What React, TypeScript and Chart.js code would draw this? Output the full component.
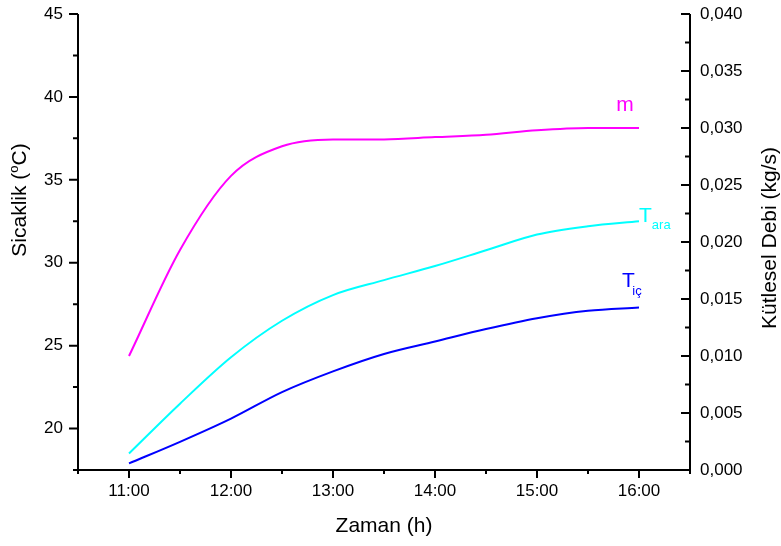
import { useEffect, useRef } from 'react';
import { Chart, registerables } from 'chart.js';

Chart.register(...registerables);

// ---- data ----
const times = [11, 11.5, 12, 12.5, 13, 13.5, 14, 14.5, 15, 15.5, 16];
const tAra = [18.5, 21.5, 24.3, 26.5, 28.05, 28.95, 29.8, 30.75, 31.7, 32.2, 32.5];
const tIc = [17.9, 19.2, 20.6, 22.2, 23.45, 24.5, 25.25, 26.0, 26.65, 27.1, 27.3];
const mDebi = [0.01, 0.0193, 0.0258, 0.0284, 0.029, 0.029, 0.0292, 0.0294, 0.0298, 0.03, 0.03];

const hourTicks = [11, 12, 13, 14, 15, 16];
const hourLabels = ['11:00', '12:00', '13:00', '14:00', '15:00', '16:00'];
const tempTicks = [20, 25, 30, 35, 40, 45];
const debiTicks = [0, 0.005, 0.01, 0.015, 0.02, 0.025, 0.03, 0.035, 0.04];
const debiLabels = ['0,000', '0,005', '0,010', '0,015', '0,020', '0,025', '0,030', '0,035', '0,040'];

const xTitle = 'Zaman (h)';
const yLeftTitle = ['Sicaklik (', 'o', 'C)'];
const yRightTitle = 'Kütlesel Debi (kg/s)';
const seriesNames = ['T', 'T', 'm'];
const seriesSubs = ['ara', 'iç', ''];

const COLORS = ['#00FFFF', '#0000FF', '#FF00FF'];
const FONT = '"Liberation Sans", Arial, Helvetica, sans-serif';

const axesPlugin = {
  id: 'originAxes',
  afterDraw(chart: any) {
    const { ctx, chartArea: a, scales } = chart;
    const x = scales.x;
    const yl = scales.y;
    const yr = scales.y1;
    ctx.save();
    ctx.strokeStyle = '#000';
    ctx.lineWidth = 2;
    ctx.beginPath();
    ctx.moveTo(a.left, a.top);
    ctx.lineTo(a.left, a.bottom + 1);
    ctx.moveTo(a.left - 1, a.bottom);
    ctx.lineTo(a.right + 1, a.bottom);
    ctx.moveTo(a.right, a.top);
    ctx.lineTo(a.right, a.bottom + 1);
    // x ticks (major hours, minor half hours), outward
    const xStep = (hourTicks[1] - hourTicks[0]) / 2;
    for (let v = x.min; v <= x.max + 1e-9; v += xStep) {
      const px = x.getPixelForValue(v);
      const major = Math.abs(v - Math.round(v)) < 1e-6;
      ctx.moveTo(px, a.bottom);
      ctx.lineTo(px, a.bottom + (major ? 8 : 4));
    }
    // left ticks, outward
    const lStep = (tempTicks[1] - tempTicks[0]) / 2;
    for (let v = yl.min; v <= yl.max + 1e-9; v += lStep) {
      const py = yl.getPixelForValue(v);
      const major = tempTicks.some((t) => Math.abs(t - v) < 1e-6);
      ctx.moveTo(a.left, py);
      ctx.lineTo(a.left - (major ? 9 : 5), py);
    }
    // right ticks, inward
    const rStep = (debiTicks[1] - debiTicks[0]) / 2;
    for (let i = 0; yr.min + i * rStep <= yr.max + 1e-9; i++) {
      const v = yr.min + i * rStep;
      const py = yr.getPixelForValue(v);
      const major = i % 2 === 0;
      ctx.moveTo(a.right, py);
      ctx.lineTo(a.right - (major ? 9 : 5), py);
    }
    ctx.stroke();

    // titles
    ctx.fillStyle = '#000';
    ctx.font = `21px ${FONT}`;
    ctx.textBaseline = 'alphabetic';
    ctx.textAlign = 'center';
    ctx.fillText(xTitle, (a.left + a.right) / 2, 532);

    // left title (rotated), with superscript
    ctx.save();
    ctx.translate(26, 200);
    ctx.rotate(-Math.PI / 2);
    ctx.textAlign = 'left';
    ctx.font = `21px ${FONT}`;
    const w1 = ctx.measureText(yLeftTitle[0]).width;
    const w3 = ctx.measureText(yLeftTitle[2]).width;
    ctx.font = `13px ${FONT}`;
    const w2 = ctx.measureText(yLeftTitle[1]).width;
    const total = w1 + w2 + w3;
    let sx = -total / 2;
    ctx.font = `21px ${FONT}`;
    ctx.fillText(yLeftTitle[0], sx, 0);
    sx += w1;
    ctx.font = `13px ${FONT}`;
    ctx.fillText(yLeftTitle[1], sx, -8);
    sx += w2;
    ctx.font = `21px ${FONT}`;
    ctx.fillText(yLeftTitle[2], sx, 0);
    ctx.restore();

    // right title
    ctx.save();
    ctx.translate(776, (a.top + a.bottom) / 2 - 4);
    ctx.rotate(-Math.PI / 2);
    ctx.textAlign = 'center';
    ctx.font = `21px ${FONT}`;
    ctx.fillText(yRightTitle, 0, 0);
    ctx.restore();

    ctx.restore();
  },
};

const labelsPlugin = {
  id: 'seriesLabels',
  afterDatasetsDraw(chart: any) {
    const { ctx } = chart;
    const last = (i: number) => {
      const m = chart.getDatasetMeta(i);
      return m.data[m.data.length - 1];
    };
    ctx.save();
    ctx.textBaseline = 'alphabetic';
    // T_ara
    const pa = last(0);
    ctx.fillStyle = COLORS[0];
    ctx.textAlign = 'left';
    ctx.font = `21px ${FONT}`;
    ctx.fillText(seriesNames[0], pa.x, pa.y + 1);
    let tw = ctx.measureText(seriesNames[0]).width;
    ctx.font = `13px ${FONT}`;
    ctx.fillText(seriesSubs[0], pa.x + tw, pa.y + 8);
    // T_iç
    const pi = last(1);
    ctx.fillStyle = COLORS[1];
    ctx.font = `21px ${FONT}`;
    ctx.fillText(seriesNames[1], pi.x - 17, pi.y - 20.5);
    tw = ctx.measureText(seriesNames[1]).width;
    ctx.font = `13px ${FONT}`;
    ctx.fillText(seriesSubs[1], pi.x - 17 + tw - 2.5, pi.y - 12.5);
    // m
    const pm = last(2);
    ctx.fillStyle = COLORS[2];
    ctx.textAlign = 'center';
    ctx.font = `21px ${FONT}`;
    ctx.fillText(seriesNames[2], pm.x - 14, pm.y - 17.5);
    ctx.restore();
  },
};

const zeroPad = (s: any) => {
  s.paddingTop = 0;
  s.paddingBottom = 0;
};

export default function App() {
  const ref = useRef<HTMLCanvasElement | null>(null);
  useEffect(() => {
    if (!ref.current) return;
    const mk = (vals: number[]) => times.map((t, i) => ({ x: t, y: vals[i] }));
    const chart = new Chart(ref.current, {
      type: 'line',
      data: {
        datasets: [
          { label: 'Tara', data: mk(tAra), yAxisID: 'y', borderColor: COLORS[0] },
          { label: 'Tiç', data: mk(tIc), yAxisID: 'y', borderColor: COLORS[1] },
          { label: 'm', data: mk(mDebi), yAxisID: 'y1', borderColor: COLORS[2] },
        ].map((d) => ({
          ...d,
          borderWidth: 2,
          pointRadius: 0,
          fill: false,
          cubicInterpolationMode: 'monotone' as const,
        })),
      },
      options: {
        responsive: false,
        animation: false,
        events: [],
        layout: { padding: { top: 14, left: 0, right: 0, bottom: 0 } },
        plugins: { legend: { display: false }, tooltip: { enabled: false }, title: { display: false } },
        scales: {
          x: {
            type: 'linear',
            min: 10.5,
            max: 16.5,
            grid: { display: false, drawTicks: false },
            border: { display: false },
            afterBuildTicks: (s: any) => {
              s.ticks = hourTicks.map((v) => ({ value: v }));
            },
            afterFit: (s: any) => {
              s.height = 76;
              s.paddingLeft = 0;
              s.paddingRight = 0;
            },
            ticks: {
              padding: 11,
              color: '#000',
              font: { family: FONT, size: 17 },
              maxRotation: 0,
              autoSkip: false,
              callback: (v: any) => hourLabels[hourTicks.indexOf(Number(v))] ?? '',
            },
          },
          y: {
            type: 'linear',
            position: 'left',
            min: 17.5,
            max: 45,
            grid: { display: false, drawTicks: false },
            border: { display: false },
            afterBuildTicks: (s: any) => {
              s.ticks = tempTicks.map((v) => ({ value: v }));
            },
            afterFit: (s: any) => {
              s.width = 78;
              zeroPad(s);
            },
            ticks: {
              padding: 15,
              color: '#000',
              font: { family: FONT, size: 17 },
              autoSkip: false,
              callback: (v: any) => String(v),
            },
          },
          y1: {
            type: 'linear',
            position: 'right',
            min: 0,
            max: 0.04,
            grid: { display: false, drawTicks: false },
            border: { display: false },
            afterBuildTicks: (s: any) => {
              s.ticks = debiTicks.map((v) => ({ value: v }));
            },
            afterFit: (s: any) => {
              s.width = 91;
              zeroPad(s);
            },
            ticks: {
              padding: 10,
              color: '#000',
              font: { family: FONT, size: 17 },
              autoSkip: false,
              callback: (v: any) => {
                const idx = debiTicks.findIndex((d) => Math.abs(d - Number(v)) < 1e-9);
                return idx >= 0 ? debiLabels[idx] : '';
              },
            },
          },
        },
      },
      plugins: [axesPlugin, labelsPlugin],
    });
    return () => chart.destroy();
  }, []);
  return (
    <div style={{ position: 'fixed', left: 0, top: 0, width: 781, height: 546, background: '#fff' }}>
      <canvas ref={ref} width={781} height={546} style={{ display: 'block' }} />
    </div>
  );
}
